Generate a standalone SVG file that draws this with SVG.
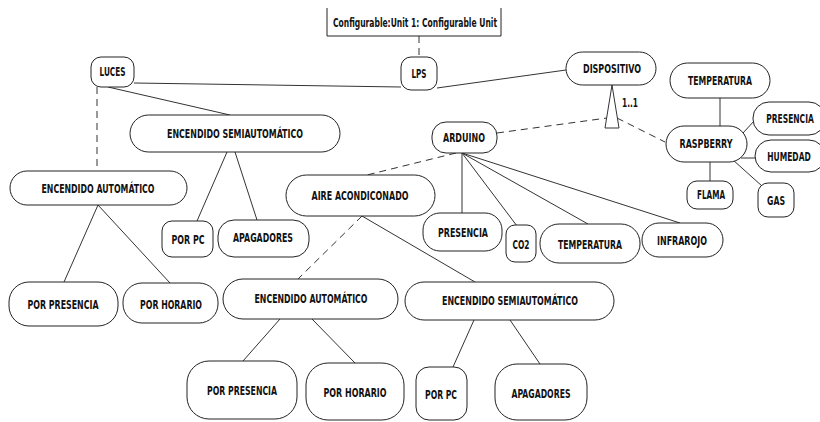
<svg xmlns="http://www.w3.org/2000/svg" width="820" height="422" viewBox="0 0 820 422">
  <style>
    .n rect, .n path { fill: #fff; stroke: #222; stroke-width: 1; }
    .n text, .lbl { font-family: "DejaVu Sans Condensed", "DejaVu Sans", sans-serif; font-weight: bold; font-size: 12.5px; fill: #111; text-anchor: middle; }
    #connectors line { stroke: #333; stroke-width: 1; fill: none; }
    #connectors .d { stroke-dasharray: 7 5; }
  </style>
  <rect width="820" height="422" fill="#fff"/>

  <!-- connectors -->
  <g id="connectors">
    <line class="d" x1="419" y1="36" x2="419" y2="57"/>
    <line x1="134" y1="83" x2="401" y2="87"/>
    <line x1="437" y1="88" x2="566" y2="70"/>
    <line x1="108" y1="87" x2="230" y2="115"/>
    <line class="d" x1="97" y1="87" x2="97" y2="171"/>
    <line x1="227" y1="152" x2="197" y2="221"/>
    <line x1="235" y1="152" x2="257" y2="220"/>
    <line x1="98" y1="205" x2="64" y2="282"/>
    <line x1="98" y1="205" x2="170" y2="283"/>
    <line class="d" x1="497" y1="133" x2="607" y2="118"/>
    <line class="d" x1="617" y1="118" x2="665" y2="142"/>
    <line x1="462" y1="153" x2="462" y2="213"/>
    <line x1="462" y1="153" x2="517" y2="226"/>
    <line x1="462" y1="153" x2="588" y2="224"/>
    <line x1="462" y1="153" x2="680" y2="223"/>
    <line class="d" x1="456" y1="153" x2="367" y2="175"/>
    <line class="d" x1="362" y1="216" x2="298" y2="279"/>
    <line x1="362" y1="216" x2="475" y2="282"/>
    <line x1="280" y1="319" x2="243" y2="361"/>
    <line x1="312" y1="319" x2="355" y2="363"/>
    <line x1="474" y1="320" x2="453" y2="367"/>
    <line x1="510" y1="320" x2="540" y2="364"/>
    <line x1="720" y1="98" x2="720" y2="126"/>
    <line x1="743" y1="133" x2="755" y2="120"/>
    <line x1="741" y1="158" x2="755" y2="158"/>
    <line x1="710" y1="162" x2="710" y2="181"/>
    <line x1="733" y1="160" x2="762" y2="186"/>
    <polygon points="612,85 605,128 619,128" fill="#fff" stroke="#333" stroke-width="1"/>
    <text class="lbl" x="630" y="107" textLength="16" lengthAdjust="spacingAndGlyphs">1..1</text>
  </g>

  <!-- nodes -->
  <g id="cfg" class="n">
    <path d="M327,8 V36 H501 V8"/>
    <text x="415" y="27" textLength="164" lengthAdjust="spacingAndGlyphs">Configurable:Unit 1: Configurable Unit</text>
  </g>
  <g id="lps" class="n">
    <rect x="401" y="57" width="36" height="33" rx="10"/>
    <text x="419" y="78" textLength="15" lengthAdjust="spacingAndGlyphs">LPS</text>
  </g>
  <g id="dispositivo" class="n">
    <rect x="566" y="52" width="90" height="33" rx="16.5"/>
    <text x="612" y="73" textLength="58" lengthAdjust="spacingAndGlyphs">DISPOSITIVO</text>
  </g>
  <g id="luces" class="n">
    <rect x="91" y="57" width="43" height="30" rx="10"/>
    <text x="112.5" y="76" textLength="26" lengthAdjust="spacingAndGlyphs">LUCES</text>
  </g>
  <g id="r-temperatura" class="n">
    <rect x="670" y="63" width="100" height="35" rx="17.5"/>
    <text x="720" y="85" textLength="64" lengthAdjust="spacingAndGlyphs">TEMPERATURA</text>
  </g>
  <g id="r-presencia" class="n">
    <rect x="753" y="102" width="72" height="33" rx="16"/>
    <text transform="translate(790,123) scale(0.68,1)" x="0" y="0" textLength="70" lengthAdjust="spacingAndGlyphs">PRESENCIA</text>
  </g>
  <g id="raspberry" class="n">
    <rect x="666" y="126" width="81" height="36" rx="18"/>
    <text x="706" y="148" textLength="53" lengthAdjust="spacingAndGlyphs">RASPBERRY</text>
  </g>
  <g id="humedad" class="n">
    <rect x="755" y="140" width="70" height="32" rx="16"/>
    <text transform="translate(789,161) scale(0.68,1)" x="0" y="0" textLength="64" lengthAdjust="spacingAndGlyphs">HUMEDAD</text>
  </g>
  <g id="flama" class="n">
    <rect x="687" y="181" width="46" height="28" rx="10"/>
    <text x="711" y="199" textLength="28" lengthAdjust="spacingAndGlyphs">FLAMA</text>
  </g>
  <g id="gas" class="n">
    <rect x="758" y="183" width="36" height="34" rx="10"/>
    <text x="776" y="205" textLength="18" lengthAdjust="spacingAndGlyphs">GAS</text>
  </g>
  <g id="arduino" class="n">
    <rect x="432" y="122" width="65" height="31" rx="14"/>
    <text x="464" y="142" textLength="42" lengthAdjust="spacingAndGlyphs">ARDUINO</text>
  </g>
  <g id="l-semi" class="n">
    <rect x="130" y="115" width="210" height="37" rx="18.5"/>
    <text x="235" y="138" textLength="136" lengthAdjust="spacingAndGlyphs">ENCENDIDO SEMIAUTOMÁTICO</text>
  </g>
  <g id="l-auto" class="n">
    <rect x="10" y="171" width="177" height="34" rx="17"/>
    <text x="98" y="193" textLength="113" lengthAdjust="spacingAndGlyphs">ENCENDIDO AUTOMÁTICO</text>
  </g>
  <g id="aire" class="n">
    <rect x="286" y="175" width="149" height="41" rx="20.5"/>
    <text x="360" y="200" textLength="97" lengthAdjust="spacingAndGlyphs">AIRE ACONDICONADO</text>
  </g>
  <g id="l-porpc" class="n">
    <rect x="162" y="221" width="51" height="36" rx="10"/>
    <text x="188" y="244" textLength="33" lengthAdjust="spacingAndGlyphs">POR PC</text>
  </g>
  <g id="l-apagadores" class="n">
    <rect x="218" y="220" width="91" height="37" rx="16"/>
    <text x="263" y="242" textLength="60" lengthAdjust="spacingAndGlyphs">APAGADORES</text>
  </g>
  <g id="a-presencia" class="n">
    <rect x="423" y="213" width="79" height="38" rx="17"/>
    <text x="463" y="237" textLength="50" lengthAdjust="spacingAndGlyphs">PRESENCIA</text>
  </g>
  <g id="a-co2" class="n">
    <rect x="506" y="225" width="30" height="37" rx="9"/>
    <text x="521" y="249" textLength="17" lengthAdjust="spacingAndGlyphs">CO2</text>
  </g>
  <g id="a-temperatura" class="n">
    <rect x="540" y="224" width="100" height="39" rx="19"/>
    <text x="590" y="249" textLength="64" lengthAdjust="spacingAndGlyphs">TEMPERATURA</text>
  </g>
  <g id="a-infrarojo" class="n">
    <rect x="642" y="223" width="81" height="34" rx="17"/>
    <text x="682" y="245" textLength="50" lengthAdjust="spacingAndGlyphs">INFRAROJO</text>
  </g>
  <g id="l-porpresencia" class="n">
    <rect x="9" y="282" width="109" height="44" rx="20"/>
    <text x="63" y="309" textLength="71" lengthAdjust="spacingAndGlyphs">POR PRESENCIA</text>
  </g>
  <g id="l-porhorario" class="n">
    <rect x="123" y="283" width="95" height="40" rx="19"/>
    <text x="171" y="309" textLength="62" lengthAdjust="spacingAndGlyphs">POR HORARIO</text>
  </g>
  <g id="a-auto" class="n">
    <rect x="223" y="279" width="175" height="40" rx="20"/>
    <text x="311" y="303" textLength="113" lengthAdjust="spacingAndGlyphs">ENCENDIDO AUTOMÁTICO</text>
  </g>
  <g id="a-semi" class="n">
    <rect x="405" y="282" width="209" height="38" rx="19"/>
    <text x="510" y="305" textLength="136" lengthAdjust="spacingAndGlyphs">ENCENDIDO SEMIAUTOMÁTICO</text>
  </g>
  <g id="a-porpresencia" class="n">
    <rect x="187" y="361" width="110" height="58" rx="22"/>
    <text x="242" y="395" textLength="70" lengthAdjust="spacingAndGlyphs">POR PRESENCIA</text>
  </g>
  <g id="a-porhorario" class="n">
    <rect x="306" y="363" width="98" height="57" rx="22"/>
    <text x="355" y="397" textLength="63" lengthAdjust="spacingAndGlyphs">POR HORARIO</text>
  </g>
  <g id="a-porpc" class="n">
    <rect x="416" y="367" width="51" height="53" rx="13"/>
    <text x="441" y="399" textLength="32" lengthAdjust="spacingAndGlyphs">POR PC</text>
  </g>
  <g id="a-apagadores" class="n">
    <rect x="495" y="364" width="92" height="56" rx="22"/>
    <text x="541" y="398" textLength="59" lengthAdjust="spacingAndGlyphs">APAGADORES</text>
  </g>
</svg>
